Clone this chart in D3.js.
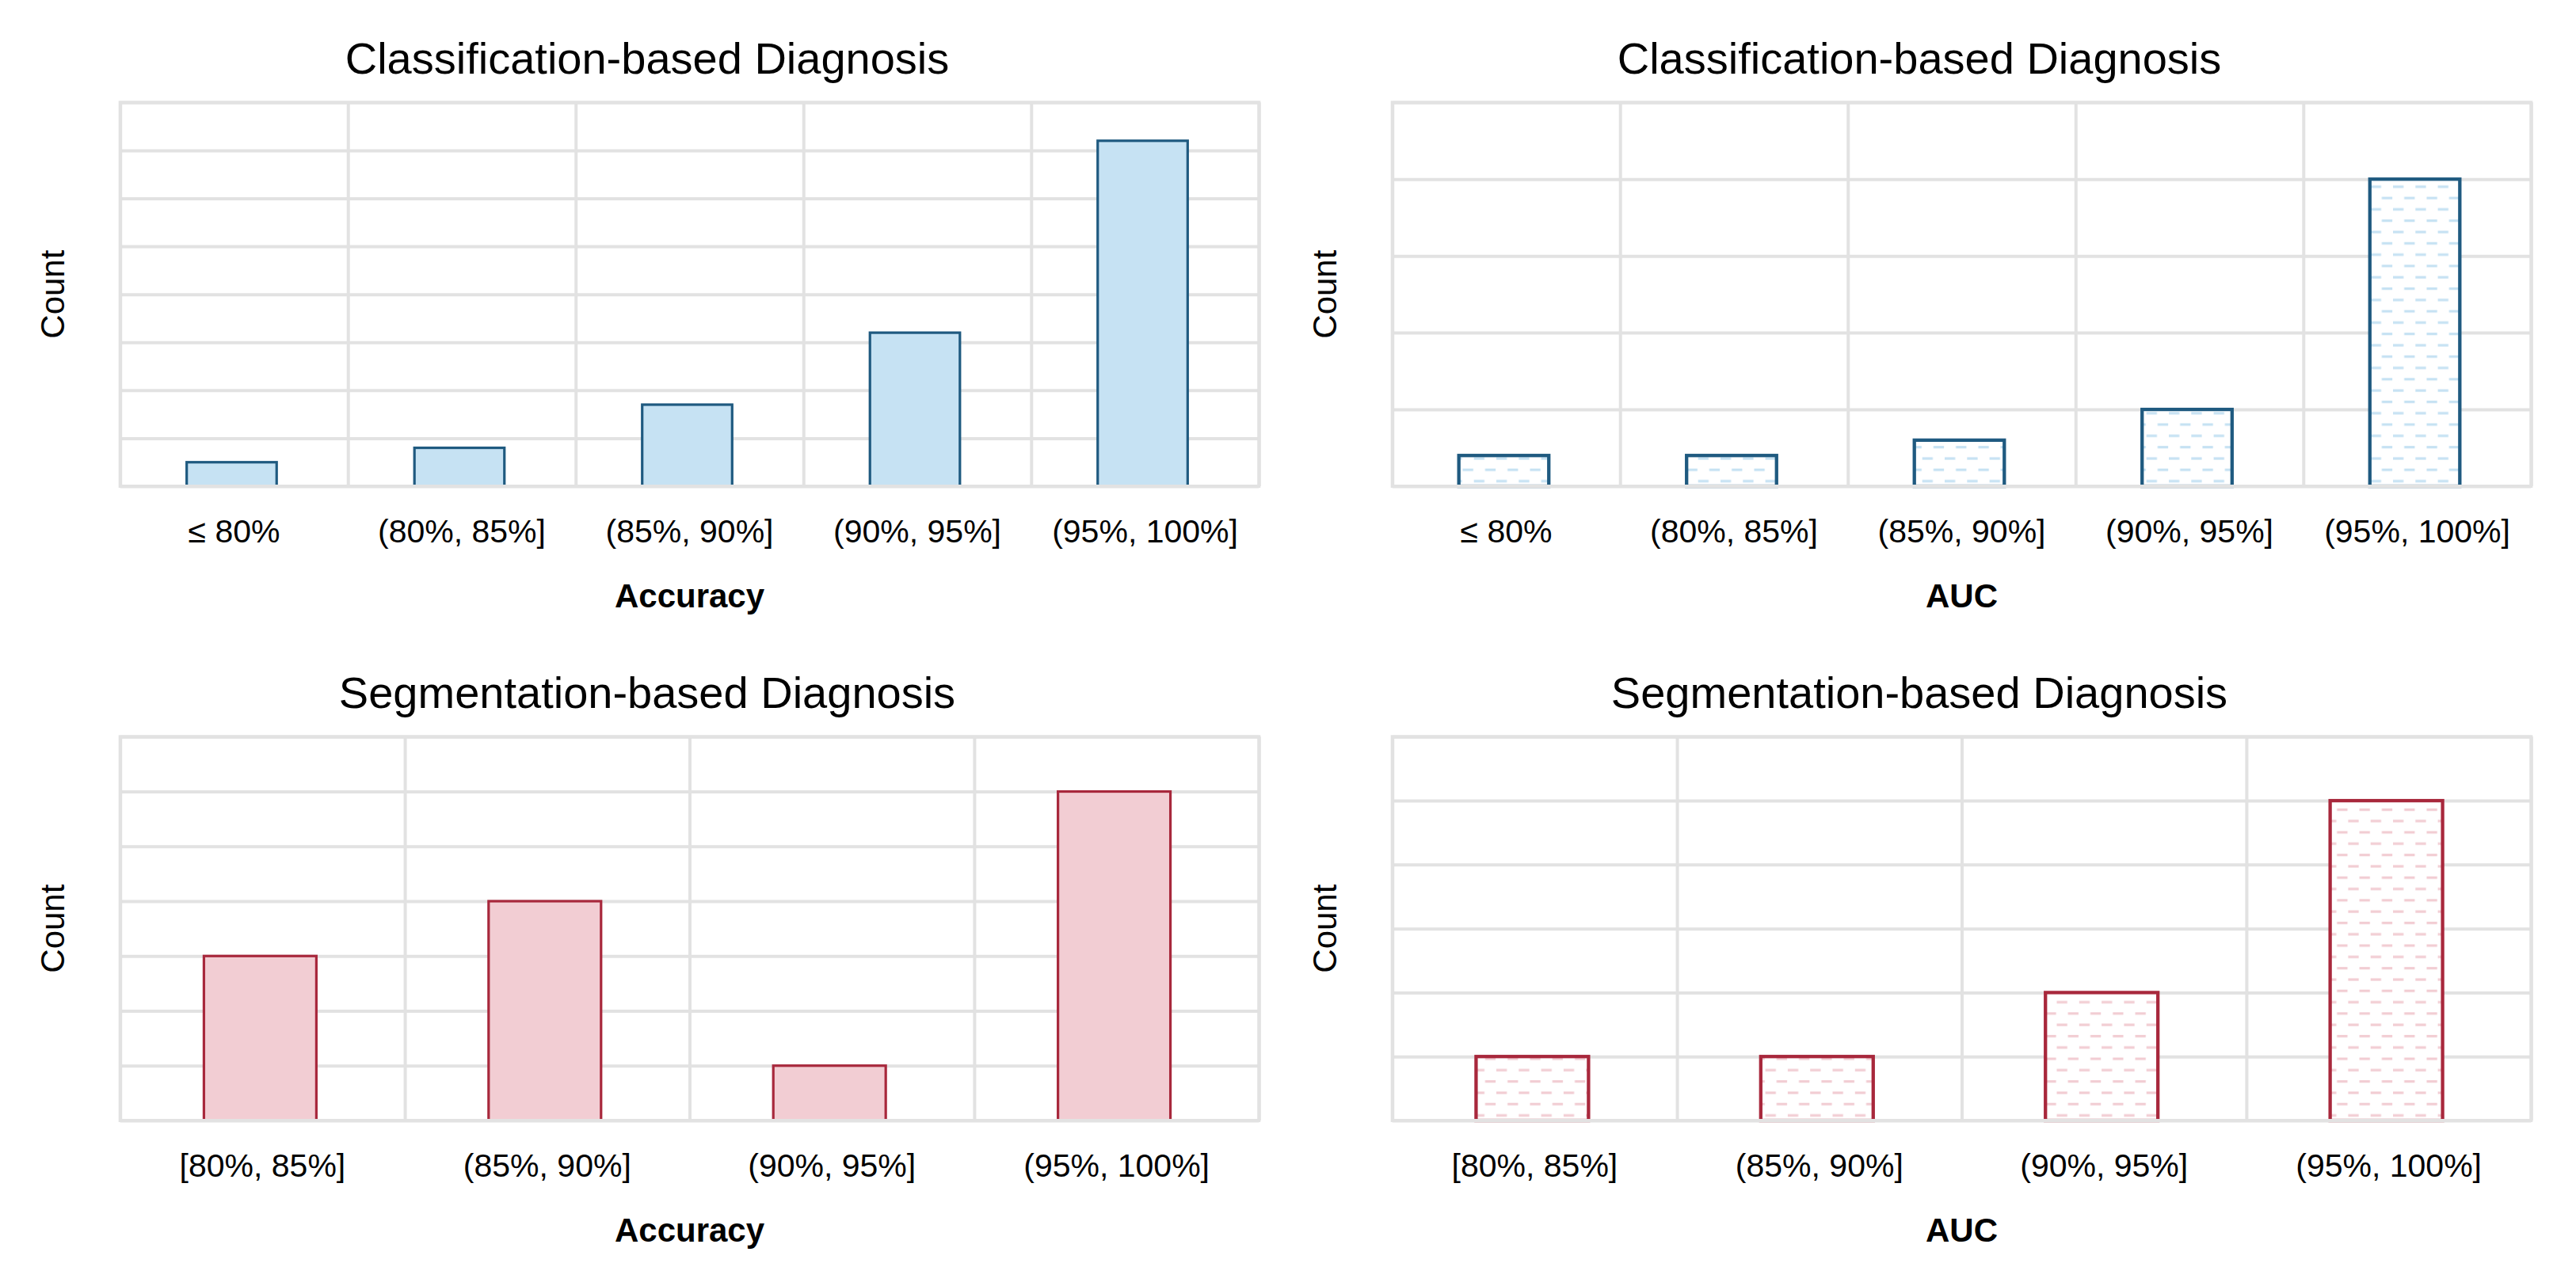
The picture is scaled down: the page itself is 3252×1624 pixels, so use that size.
<html>
<head>
<script src="https://d3js.org/d3.v7.min.js"></script>
<style>
body { margin:0; background:#fff; }
text { font-family:"Liberation Sans", Arial, Helvetica, sans-serif; fill:#000; }
</style>
</head>
<body>
<div id="chart"></div>
<script>
	//bins for the two kinds of papers
	var classBins = ["\u2264 80%", "(80%, 85%]", "(85%, 90%]", "(90%, 95%]", "(95%, 100%]"];
	var segBins = ["[80%, 85%]", "(85%, 90%]", "(90%, 95%]", "(95%, 100%]"];

	//counts
	var classAccuracy = [5, 8, 17, 32, 72];
	var classAUC = [4, 4, 6, 10, 40];
	var segAccuracy = [3, 4, 1, 6];
	var segAUC = [1, 1, 2, 5];

	//y axis tops and grid step for each panel
	var classAccuracyTicks = d3.range(0, 81, 10);
	var classAUCTicks = d3.range(0, 51, 10);
	var segAccuracyTicks = d3.range(0, 8, 1);
	var segAUCTicks = d3.range(0, 7, 1);

	var titles = ["Classification-based Diagnosis", "Segmentation-based Diagnosis"];
	var xLabels = ["Accuracy", "AUC"];

	var width = 3252;
	var height = 1624;

	//one panel is 1606 wide and 801 tall, the plot box sits inside it
	var panelW = 1606, panelH = 801;
	var box = {left:151.7, right:1589.3, top:129.3, bottom:614};
	var plotW = box.right - box.left;
	var plotH = box.bottom - box.top;

	var blue = {stroke:"#1f5a80", fill:"#c6e2f3"};
	var red = {stroke:"#a8283c", fill:"#f2cdd3"};
	var gridColor = "#e2e2e2";

	var svg = d3.select("#chart").append("svg")
		.attr("width", width)
		.attr("height", height);

	svg.append("rect").attr("width", width).attr("height", height).attr("fill", "#fff");

	//hatch: rows of short horizontal dashes, every other row shifted by half
	var defs = svg.append("defs");
	function makeHatch(id, color){
		var p = defs.append("pattern")
			.attr("id", id)
			.attr("patternUnits", "userSpaceOnUse")
			.attr("width", 28.3)
			.attr("height", 28.6);
		p.append("rect").attr("width", 28.3).attr("height", 28.6).attr("fill", "#fff");
		p.append("line").attr("x1", 0).attr("x2", 13.3).attr("y1", 7).attr("y2", 7)
			.attr("stroke", color).attr("stroke-width", 3.2);
		p.append("line").attr("x1", 14.15).attr("x2", 27.45).attr("y1", 21.3).attr("y2", 21.3)
			.attr("stroke", color).attr("stroke-width", 3.2);
	}
	makeHatch("hatch-blue", blue.fill);
	makeHatch("hatch-red", red.fill);

	function drawPanel(col, row, cats, values, ticks, title, xlabel, colors, hatched){
		var g = svg.append("g")
			.attr("transform", "translate(" + (col * panelW) + "," + (row * panelH) + ")");

		var x = d3.scaleBand()
			.domain(cats)
			.range([box.left, box.right]);
		var y = d3.scaleLinear()
			.domain([0, ticks[ticks.length - 1]])
			.range([box.bottom, box.top]);
		//band edges for the vertical grid
		var xEdge = d3.scaleLinear()
			.domain([0, cats.length])
			.range([box.left, box.right]);

		//horizontal grid
		g.append("g")
			.attr("transform", "translate(" + box.left + ",0)")
			.call(d3.axisLeft(y).tickValues(ticks).tickSize(-plotW).tickFormat(""))
			.call(function(a){
				a.select(".domain").remove();
				a.selectAll("line").attr("stroke", gridColor).attr("stroke-width", 4);
			});

		//vertical grid at the band borders
		g.append("g")
			.attr("transform", "translate(0," + box.bottom + ")")
			.call(d3.axisBottom(xEdge).tickValues(d3.range(0, cats.length + 1)).tickSize(-plotH).tickFormat(""))
			.call(function(a){
				a.select(".domain").remove();
				a.selectAll("line").attr("stroke", gridColor).attr("stroke-width", 4);
			});

		var barW = x.bandwidth() * 0.395;
		g.append("g")
			.selectAll("rect")
			.data(values)
			.enter().append("rect")
			.attr("x", function(d, i){ return x(cats[i]) + (x.bandwidth() - barW) / 2 - 3; })
			.attr("y", function(d){ return y(d); })
			.attr("width", barW)
			.attr("height", function(d){ return y(0) - y(d); })
			.attr("fill", hatched ? "url(#" + hatched + ")" : colors.fill)
			.attr("stroke", colors.stroke)
			//hatched bars carry a heavier edge in the original
			.attr("stroke-width", hatched ? 4.3 : 3.2);

		//frame on top so it covers the bar bottoms
		g.append("rect")
			.attr("x", box.left)
			.attr("y", box.top)
			.attr("width", plotW)
			.attr("height", plotH)
			.attr("fill", "none")
			.attr("stroke", gridColor)
			.attr("stroke-width", 4);

		//bin labels
		g.append("g")
			.attr("transform", "translate(0," + box.bottom + ")")
			.call(d3.axisBottom(x).tickSize(0))
			.call(function(a){
				a.select(".domain").remove();
				a.selectAll("text")
					.attr("y", 71)
					.attr("dy", null)
					.style("font-size", "41px")
					.style("font-family", "'Liberation Sans', Arial, sans-serif")
					.attr("fill", "#000");
			});

		g.append("text")
			.attr("x", 817)
			.attr("y", 93)
			.attr("text-anchor", "middle")
			.style("font-size", "56px")
			.text(title);

		g.append("text")
			.attr("x", (box.left + box.right) / 2)
			.attr("y", 767)
			.attr("text-anchor", "middle")
			.style("font-size", "42px")
			.style("font-weight", "bold")
			.text(xlabel);

		g.append("text")
			.attr("transform", "translate(80.7," + ((box.top + box.bottom) / 2) + ") rotate(-90)")
			.attr("text-anchor", "middle")
			.style("font-size", "42px")
			.text("Count");
	}

	drawPanel(0, 0, classBins, classAccuracy, classAccuracyTicks, titles[0], xLabels[0], blue, null);
	drawPanel(1, 0, classBins, classAUC, classAUCTicks, titles[0], xLabels[1], blue, "hatch-blue");
	drawPanel(0, 1, segBins, segAccuracy, segAccuracyTicks, titles[1], xLabels[0], red, null);
	drawPanel(1, 1, segBins, segAUC, segAUCTicks, titles[1], xLabels[1], red, "hatch-red");
</script>
</body>
</html>
